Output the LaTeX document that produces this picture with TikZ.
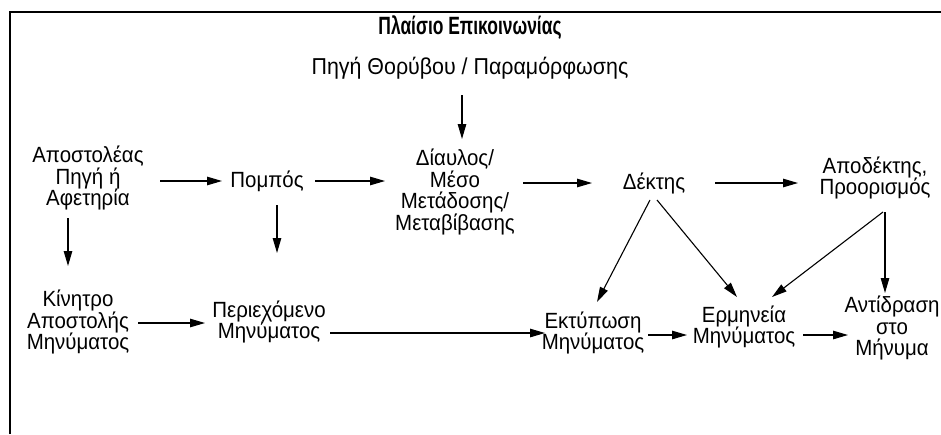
\documentclass[tikz,border=0pt]{standalone}
\usepackage{fontspec}
\usepackage{graphicx}
\setmainfont[FakeStretch=0.93]{Liberation Sans}
\usetikzlibrary{arrows.meta,calc}
\begin{document}
\begin{tikzpicture}[x=1pt,y=-1pt,
  txt/.style={align=center,inner sep=0pt,font=\fontsize{22}{21.5}\selectfont},
  arr/.style={-{Triangle[length=15pt,width=8.5pt]},line width=1.1pt},
  frame/.style={line width=1.2pt}]
\useasboundingbox (0,0) rectangle (941,434);
\coordinate (fb) at (10,434);
\coordinate (ft) at (10,12);
\coordinate (fr) at (941,12);
\draw[frame] (fb) -- (ft) -- (fr);
\node[txt,font=\fontsize{25}{21.5}\selectfont\bfseries] (title) at (470,28) {\scalebox{0.75}[1]{Πλαίσιο Επικοινωνίας}};
\node[txt,font=\fontsize{23}{21.5}\selectfont] (noise) at (470,68) {Πηγή Θορύβου / Παραμόρφωσης};
\node[txt] (send) at (88,178) {Αποστολέας\\Πηγή ή\\Αφετηρία};
\node[txt] (pompos) at (267,181) {Πομπός};
\node[txt] (channel) at (455,192) {Δίαυλος/\\Μέσο\\Μετάδοσης/\\Μεταβίβασης};
\node[txt] (recv) at (654,183) {Δέκτης};
\node[txt] (dest) at (875,178) {Αποδέκτης,\\Προορισμός};
\node[txt] (motive) at (78,322) {Κίνητρο\\Αποστολής\\Μηνύματος};
\node[txt] (content) at (269,322) {Περιεχόμενο\\Μηνύματος};
\node[txt] (print) at (593,333) {Εκτύπωση\\Μηνύματος};
\node[txt] (interp) at (744,327) {Ερμηνεία\\Μηνύματος};
\node[txt] (react) at (892,328) {Αντίδραση\\στο\\Μήνυμα};
\draw[arr] ($(noise)+(-8,27)$) -- ($(channel)+(7,-53)$);
\draw[arr] ($(send)+(72,3)$) -- ($(pompos)+(-45,0)$);
\draw[arr] ($(pompos)+(48,0)$) -- ($(channel)+(-70,-11)$);
\draw[arr] ($(channel)+(68,-9)$) -- ($(recv)+(-62,0)$);
\draw[arr] ($(recv)+(61,0)$) -- ($(dest)+(-77,5)$);
\draw[arr] ($(send)+(-20,40)$) -- ($(motive)+(-10,-56)$);
\draw[arr] ($(pompos)+(10,24)$) -- ($(content)+(8,-69)$);
\draw[arr] ($(motive)+(60,1)$) -- ($(content)+(-64,1)$);
\draw[arr] ($(content)+(61,11)$) -- ($(print)+(-48,0)$);
\draw[arr] ($(print)+(55,2)$) -- ($(interp)+(-57,8)$);
\draw[arr] ($(interp)+(59,8)$) -- ($(react)+(-44,7)$);
\draw[arr] ($(recv)+(-4,17)$) -- ($(print)+(4,-31)$);
\draw[arr] ($(recv)+(3,17)$) -- ($(interp)+(-7,-30)$);
\draw[arr] ($(dest)+(8,34)$) -- ($(interp)+(28,-30)$);
\draw[arr] ($(dest)+(10,34)$) -- ($(react)+(-7,-35)$);
\end{tikzpicture}
\end{document}
